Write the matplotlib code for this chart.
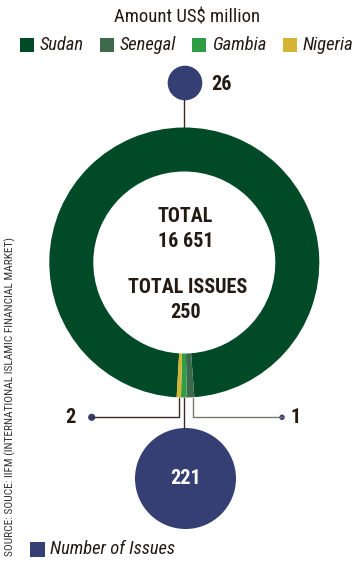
import numpy as np
import matplotlib.pyplot as plt
from matplotlib.patches import Circle, Rectangle

W, H = 355, 561

# Amount US$ million by country
countries = ['Sudan', 'Senegal', 'Gambia', 'Nigeria']
amounts = [16303, 150, 113, 85]
# Number of issues by country
issues = [26, 1, 221, 2]
total_amount = '16 651'
total_issues = '250'

colors = ['#014a28', '#3c6a4b', '#2f9d46', '#d4b432']
navy = '#363f73'
ink = '#231a14'

plt.rcParams['font.family'] = ['Roboto Condensed', 'Archivo Narrow', 'Roboto', 'DejaVu Sans']

fig = plt.figure(figsize=(W / 100, H / 100), dpi=100)
ax = fig.add_axes([0, 0, 1, 1])


def Y(y):
    # layout measured top-down in pixels
    return H - y


cx, cy = 184.3, 262.5
r_out, ring = 135, 44

wedges, _ = ax.pie(amounts, colors=colors, radius=r_out, center=(cx, Y(cy)),
                   startangle=266.75, counterclock=False,
                   wedgeprops=dict(width=ring, linewidth=0))

# centre text
big = 14.5
ax.text(cx + 1, Y(216), 'TOTAL', ha='center', va='center', fontsize=big,
        fontweight='bold', color=ink)
ax.text(cx + 1, Y(241.5), total_amount, ha='center', va='center', fontsize=big,
        fontweight='bold', color=ink)
ax.text(cx + 3, Y(287.5), 'TOTAL ISSUES', ha='center', va='center', fontsize=big,
        fontweight='bold', color=ink)
ax.text(cx + 1, Y(312.5), total_issues, ha='center', va='center', fontsize=big,
        fontweight='bold', color=ink)

# bubbles sized by issue count (area ~ value)
r_max = 50.5
radii = {c: r_max * np.sqrt(v / max(issues)) for c, v in zip(countries, issues)}
idx = {c: i for i, c in enumerate(countries)}


def mid_x(name):
    w = wedges[idx[name]]
    a = np.deg2rad((w.theta1 + w.theta2) / 2)
    return cx + r_out * np.cos(a)


ring_bottom = cy + r_out
line_y = 417.3
lc = '#3a2c24'

# Sudan: bubble above the ring
sx, sy = 185, 83
ax.add_patch(Circle((sx, Y(sy)), radii['Sudan'], color=navy, lw=0))
ax.plot([184, 184], [Y(sy + radii['Sudan']), Y(cy - r_out)], color=lc, lw=1)
ax.text(sx + radii['Sudan'] + 9, Y(sy + 1), str(issues[idx['Sudan']]), ha='left',
        va='center', fontsize=big, fontweight='bold', color=ink)

# Gambia: big bubble below
gx, gy = 185.5, 478.5
ax.add_patch(Circle((gx, Y(gy)), radii['Gambia'], color=navy, lw=0))
xg = mid_x('Gambia')
ax.plot([xg, xg], [Y(ring_bottom), Y(gy - radii['Gambia'])], color=lc, lw=1)
ax.text(gx, Y(gy), str(issues[idx['Gambia']]), ha='center', va='center',
        fontsize=big, fontweight='bold', color='white')

# Nigeria: left dot
nx = 91.7
xn = mid_x('Nigeria')
ax.plot([xn, xn, nx], [Y(ring_bottom), Y(line_y), Y(line_y)], color=lc, lw=1)
ax.add_patch(Circle((nx, Y(line_y)), radii['Nigeria'] * 0.75, color=navy, lw=0))
ax.text(70, Y(line_y), str(issues[idx['Nigeria']]), ha='center', va='center',
        fontsize=big, fontweight='bold', color=ink)

# Senegal: right dot
ex = 282
xe = mid_x('Senegal') + 2.5
ax.plot([xe, xe, ex], [Y(ring_bottom), Y(line_y), Y(line_y)], color='#7a7674', lw=1)
ax.add_patch(Circle((ex, Y(line_y)), radii['Senegal'] * 0.8, color=navy, lw=0))
ax.text(296, Y(line_y), str(issues[idx['Senegal']]), ha='center', va='center',
        fontsize=big, fontweight='bold', color=ink)

# title and legend
ax.text(187, Y(17), 'Amount US$ million', ha='center', va='center',
        fontsize=13.5, color=ink)
leg_x = [20, 100, 192.3, 282.7]
for x0, name, col in zip(leg_x, countries, colors):
    ax.add_patch(Rectangle((x0, Y(52.3)), 14, 14, color=col, lw=0))
    ax.text(x0 + 19.5, Y(45), name, ha='left', va='center', fontsize=13.3,
            style='italic', color=ink)

ax.add_patch(Rectangle((30, Y(556.7)), 15, 14.5, color=navy, lw=0))
ax.text(50.5, Y(549.5), 'Number of Issues', ha='left', va='center', fontsize=13.3,
        style='italic', color=ink)

ax.text(10.5, Y(556), 'SOURCE: SOUCE: IIFM (INTERNATIONAL ISLAMIC FINANCIAL MARKET)',
        rotation=90, ha='center', va='bottom', fontsize=8.2, color='#333333')

ax.set_xlim(0, W)
ax.set_ylim(0, H)
ax.set_aspect('equal')
ax.axis('off')

fig.savefig('out.png', dpi=100)
